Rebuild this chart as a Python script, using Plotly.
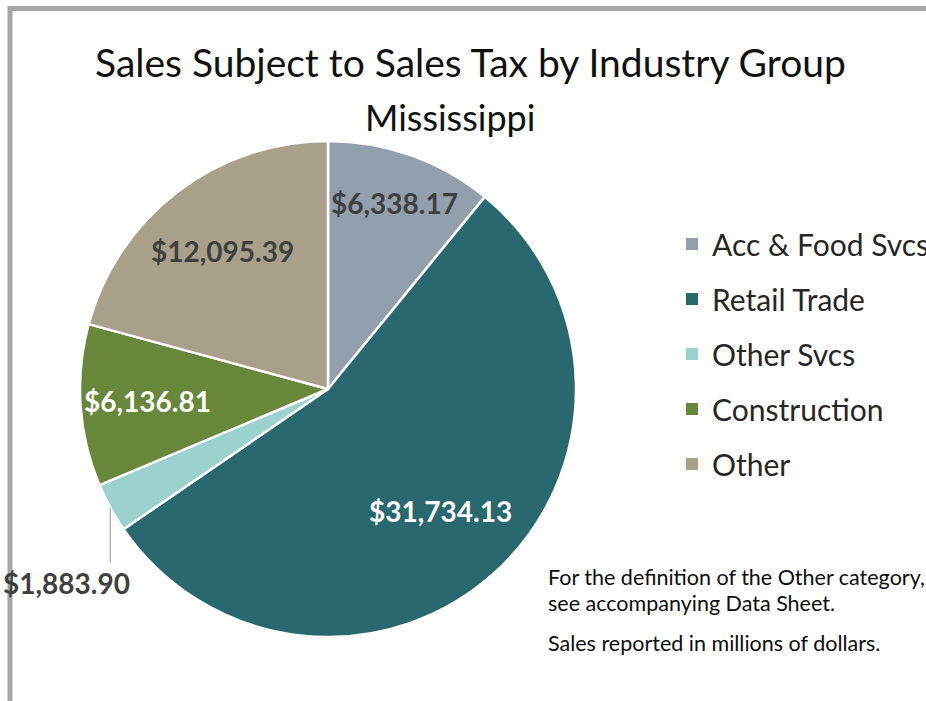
import math
import plotly.graph_objects as go

categories = ["Acc & Food Svcs", "Retail Trade", "Other Svcs", "Construction", "Other"]
sales = [6338.17, 31734.13, 1883.90, 6136.81, 12095.39]
colors = ["#939fac", "#28686e", "#9bd2cd", "#68873a", "#a8a08b"]
label_colors = ["#404040", "#ffffff", "#404040", "#ffffff", "#404040"]
label_radius = [0.795, 0.67, None, 0.73, 0.70]   # None -> outside label with leader line

title_text = "Sales Subject to Sales Tax by Industry Group"
subtitle_text = "Mississippi"
note_lines = ["For the definition of the Other category,", "see accompanying Data Sheet.",
              "Sales reported in millions of dollars."]

W, H = 926, 701
FONT = "Lato"

labels_fmt = ["${:,.2f}".format(v) for v in sales]

# pie placement (pixels -> paper)
cx, cy, r = 328, 389, 248
dom_x = [(cx - r) / W, (cx + r) / W]
dom_y = [1 - (cy + r) / H, 1 - (cy - r) / H]

fig = go.Figure()
fig.add_trace(go.Pie(
    labels=categories, values=sales, textinfo="none",
    sort=False, direction="clockwise", rotation=0,
    marker=dict(colors=colors, line=dict(color="white", width=2.5)),
    domain=dict(x=dom_x, y=dom_y), showlegend=False, hoverinfo="label+value",
))

# legend entries as dummy traces (for spacing control)
for cat, col in zip(categories, colors):
    fig.add_trace(go.Scatter(
        x=[None], y=[None], mode="markers", name=cat, legendgroup=cat,
        marker=dict(symbol="square", size=15, color=col),
    ))

# data labels, positioned from each slice's mid-angle
total = sum(sales)
cum = 0.0
for val, txt, col, rf in zip(sales, labels_fmt, label_colors, label_radius):
    mid = (cum + val / 2) / total * 360
    cum += val
    sa, ca = math.sin(math.radians(mid)), math.cos(math.radians(mid))
    if rf is not None:
        lx, ly = cx + rf * r * sa, cy - rf * r * ca
        fig.add_annotation(xref="paper", yref="paper", x=lx / W, y=1 - ly / H,
                           text=txt, showarrow=False, xanchor="center", yanchor="middle",
                           font=dict(family=FONT, size=28, color=col, weight="bold"))
    else:
        ex, ey = cx + r * sa, cy - r * ca
        fig.add_shape(type="line", xref="paper", yref="paper",
                      x0=ex / W, x1=ex / W, y0=1 - ey / H, y1=1 - (ey + 55) / H,
                      line=dict(color="#a6a6a6", width=1.2))
        fig.add_annotation(xref="paper", yref="paper", x=ex / W, y=1 - (ey + 55) / H,
                           text=txt, showarrow=False, xanchor="center", yanchor="top",
                           xshift=-44, yshift=-1,
                           font=dict(family=FONT, size=28, color=col, weight="bold"))

# titles
fig.add_annotation(xref="paper", yref="paper", x=470 / W, y=1 - 62 / H, text=title_text,
                   showarrow=False, xanchor="center", yanchor="middle",
                   font=dict(family=FONT, size=39, color="#111111"))
fig.add_annotation(xref="paper", yref="paper", x=449.5 / W, y=1 - 117 / H, text=subtitle_text,
                   showarrow=False, xanchor="center", yanchor="middle",
                   font=dict(family=FONT, size=36, color="#111111"))

# notes
for line, ypx in zip(note_lines, [577, 603, 643]):
    fig.add_annotation(xref="paper", yref="paper", x=546 / W, y=1 - ypx / H,
                       text=line, showarrow=False, xanchor="left", yanchor="middle",
                       align="left", font=dict(family=FONT, size=21.5, color="#0d0d0d"))

# frame border
fig.add_shape(type="rect", xref="paper", yref="paper",
              x0=10 / W, x1=1.1, y0=-0.1, y1=1 - 8.5 / H,
              line=dict(color="#a6a6a6", width=5), layer="above")

fig.update_layout(
    width=W, height=H, margin=dict(l=0, r=0, t=0, b=0, autoexpand=False),
    paper_bgcolor="white", plot_bgcolor="white",
    xaxis=dict(visible=False), yaxis=dict(visible=False),
    showlegend=True,
    legend=dict(x=672 / W, y=1 - 218 / H, xanchor="left", yanchor="top",
                font=dict(family=FONT, size=30, color="#262626"),
                tracegroupgap=13, itemsizing="constant", bgcolor="rgba(0,0,0,0)"),
)

fig.write_html("out.html", config={"displayModeBar": False},
               post_script="document.body.style.margin='0';document.body.style.overflow='hidden';")
